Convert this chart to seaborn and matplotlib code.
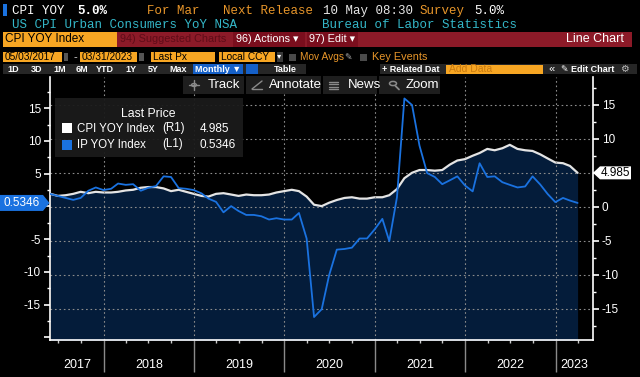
import numpy as np
import pandas as pd
import matplotlib
matplotlib.use("Agg")
import matplotlib.pyplot as plt
import matplotlib.dates as mdates
from matplotlib.patches import Rectangle, Polygon, Circle
from matplotlib.lines import Line2D
from matplotlib.ticker import MultipleLocator, FixedLocator
from matplotlib.transforms import blended_transform_factory
import seaborn as sns

# --- datos (mensuales, mayo 2017 - marzo 2023) ---
cpi_yoy = [1.9, 1.6, 1.7, 1.9, 2.2, 2.0, 2.2, 2.1,
           2.1, 2.2, 2.4, 2.5, 2.8, 2.9, 2.9, 2.7, 2.3, 2.5, 2.2, 1.9,
           1.6, 1.5, 1.9, 2.0, 1.8, 1.6, 1.8, 1.7, 1.7, 1.8, 2.1, 2.3,
           2.5, 2.3, 1.5, 0.3, 0.1, 0.6, 1.0, 1.3, 1.4, 1.2, 1.2, 1.4,
           1.4, 1.7, 2.6, 4.2, 5.0, 5.4, 5.4, 5.3, 5.4, 6.2, 6.8, 7.0,
           7.5, 7.9, 8.5, 8.3, 8.6, 9.1, 8.5, 8.3, 8.2, 7.7, 7.1, 6.5,
           6.4, 6.0, 4.985]
ip_yoy = [1.9, 1.6, 1.3, 1.0, 1.3, 2.4, 2.9, 2.5,
          2.7, 3.5, 3.3, 3.4, 2.4, 2.85, 3.1, 4.6, 4.5, 2.8, 2.7, 2.5,
          2.0, 1.2, 0.7, -0.9, 0.05, -0.7, -1.3, -1.3, -1.5, -2.0, -1.8, -2.0,
          -2.0, -1.0, -4.9, -16.9, -15.7, -10.5, -6.6, -6.5, -6.3, -4.9, -4.9, -3.5,
          -1.9, -5.3, 1.4, 16.5, 15.5, 9.3, 5.1, 4.5, 3.4, 4.0, 4.6, 3.2,
          2.3, 6.6, 4.5, 4.6, 3.7, 3.3, 2.9, 3.05, 4.6, 3.35, 1.9, 0.66,
          1.3, 0.9, 0.5346]
cpi_last = "4.985"
ip_last = "0.5346"
years = [2017, 2018, 2019, 2020, 2021, 2022, 2023]
left_ticks = [-20, -15, -10, -5, 0, 5, 10, 15]
left_labels = ["", "-15", "-10", "-5", "", "5", "10", "15"]
right_ticks = [-15, -10, -5, 0, 5, 10, 15]
right_labels = ["-15", "-10", "-5", "0", "", "10", "15"]

dates = pd.date_range("2017-06-01", periods=len(cpi_yoy), freq="MS") - pd.Timedelta(days=1)
df = pd.DataFrame({"fecha": dates, "cpi": cpi_yoy, "ip": ip_yoy})

# --- estilo ---
sns.set_theme(style="ticks", rc={"axes.facecolor": "black", "figure.facecolor": "black",
                                 "axes.unicode_minus": False})
plt.rcParams["font.family"] = ["Liberation Sans", "DejaVu Sans"]

NAVY = "#041c3a"
BLUE = "#1a72e0"
ORANGE = "#f7a623"
ORANGE_TXT = "#e8962a"
CYAN = "#34b7c8"
RED = "#8c1a28"
RED_DARK = "#7a0e1d"
W, H = 640, 377

fig = plt.figure(figsize=(W / 100, H / 100), dpi=100, facecolor="black")


def fx(x):
    return x / W


def fy(y):
    return 1 - y / H


def box(x0, y0, x1, y1, color, **kw):
    fig.patches.append(Rectangle((fx(x0), fy(y1)), (x1 - x0) / W, (y1 - y0) / H,
                                 transform=fig.transFigure, facecolor=color,
                                 edgecolor="none", **kw))


def poly(pts, color):
    fig.patches.append(Polygon([(fx(a), fy(b)) for a, b in pts], closed=True,
                               transform=fig.transFigure, facecolor=color,
                               edgecolor="none", zorder=2))


def seg(x0, y0, x1, y1, color="#8a8a8a", lw=1):
    fig.lines.append(Line2D([fx(x0), fx(x1)], [fy(y0), fy(y1)], transform=fig.transFigure,
                            color=color, linewidth=lw, zorder=3))


def txt(x, y, s, **kw):
    kw.setdefault("va", "center")
    kw.setdefault("color", "white")
    fig.text(fx(x), fy(y), s, **kw)


# --- ejes ---
ax = fig.add_axes([fx(50), fy(340), (592.7 - 50) / W, (340 - 77) / H])
ax2 = ax.twinx()
ax.set_zorder(ax2.get_zorder() + 1)
ax.patch.set_visible(False)
ax2.patch.set_visible(True)
ax2.patch.set_facecolor("black")

# CPI (eje derecho) como area
ax2.fill_between(df["fecha"], -40, df["cpi"], color=NAVY, lw=0, zorder=1)
sns.lineplot(data=df, x="fecha", y="cpi", ax=ax2, color="#e4e4e4", linewidth=1.6, zorder=2)
# IP (eje izquierdo)
sns.lineplot(data=df, x="fecha", y="ip", ax=ax, color=BLUE, linewidth=1.3, zorder=3)

ax.set_xlim(pd.Timestamp("2017-05-29"), pd.Timestamp("2023-05-31"))
ax.set_ylim(-20.41, 19.78)
ax2.set_ylim(-19.56, 19.06)
for a in (ax, ax2):
    a.set_xlabel("")
    a.set_ylabel("")

ax.yaxis.set_major_locator(FixedLocator(left_ticks))
ax.set_yticklabels(left_labels)
ax.yaxis.set_minor_locator(MultipleLocator(2.5))
ax2.yaxis.set_major_locator(FixedLocator(right_ticks))
ax2.set_yticklabels(right_labels)
ax2.yaxis.set_minor_locator(MultipleLocator(2.5))

ax.xaxis.set_major_locator(mdates.YearLocator())
ax.xaxis.set_minor_locator(mdates.MonthLocator(bymonth=[1, 4, 7, 10]))
ax.xaxis.set_major_formatter(plt.NullFormatter())

ax.tick_params(axis="y", which="major", colors="white", length=4, width=1.2, pad=2.5, labelsize=8.5)
ax.tick_params(axis="y", which="minor", colors="white", length=2.5, width=1)
ax2.tick_params(axis="y", which="major", colors="white", length=4, width=1.2, pad=2.5, labelsize=8.5)
ax2.tick_params(axis="y", which="minor", colors="white", length=2.5, width=1)
ax.tick_params(axis="x", which="major", color="#8a8a8a", length=23, width=1)
ax.tick_params(axis="x", which="minor", color="#cccccc", length=2.5, width=1)

for s in ("top", "right"):
    ax.spines[s].set_visible(False)
for s in ("top", "left", "bottom"):
    ax2.spines[s].set_visible(False)
ax.spines["left"].set_color("white")
ax.spines["bottom"].set_color("white")
ax2.spines["right"].set_color("white")
for sp in (ax.spines["left"], ax.spines["bottom"], ax2.spines["right"]):
    sp.set_linewidth(1.2)

# rejilla punteada
ax2.set_axisbelow("line")
ax2.grid(axis="y", which="major", color="#8c8c8c", linestyle=(0, (1.5, 2.5)), linewidth=0.8)
ax.grid(axis="x", which="major", color="#8c8c8c", linestyle=(0, (1.5, 2.5)), linewidth=0.8)
ax.grid(axis="y", visible=False)

# etiquetas de años
xl0, xl1 = ax.get_xlim()
tr = blended_transform_factory(ax.transData, fig.transFigure)
for yr in years:
    a0 = max(mdates.date2num(pd.Timestamp(f"{yr}-01-01")), xl0)
    a1 = min(mdates.date2num(pd.Timestamp(f"{yr + 1}-01-01")), xl1)
    ax.text((a0 + a1) / 2, fy(365), str(yr), transform=tr, ha="center", va="center",
            color="white", fontsize=9)

# etiquetas de último valor
fig.canvas.draw()
yc = H - ax2.transData.transform((0, float(cpi_last)))[1]
poly([(593, yc), (600, yc - 6.5), (631, yc - 6.5), (631, yc + 6.5), (600, yc + 6.5)], "white")
txt(615.5, yc, cpi_last, ha="center", color="black", fontsize=8.5, zorder=3)
yi = H - ax.transData.transform((0, float(ip_last)))[1]
poly([(0, yi - 8), (43, yi - 8), (49.5, yi), (43, yi + 8), (0, yi + 8)], BLUE)
txt(22, yi, ip_last, ha="center", fontsize=8.5, zorder=3)

# --- cabecera estilo terminal ---
mono = ["Liberation Mono", "DejaVu Sans Mono"]
box(3, 4, 7, 16, BLUE)
txt(12, 11, "CPI YOY", family=mono, fontsize=9)
txt(77, 11, "5.0%", family=mono, fontsize=9, fontweight="bold")
txt(147, 11, "For Mar", family=mono, fontsize=9, color=ORANGE_TXT)
txt(223, 11, "Next Release", family=mono, fontsize=9, color=ORANGE_TXT)
txt(323, 11, "10 May 08:30", family=mono, fontsize=9, color="#e6e6e6")
txt(420, 11, "Survey", family=mono, fontsize=9, color=ORANGE_TXT)
txt(474, 11, "5.0%", family=mono, fontsize=9)
txt(12, 25, "US CPI Urban Consumers YoY NSA", family=mono, fontsize=9, color=CYAN)
txt(322, 25, "Bureau of Labor Statistics", family=mono, fontsize=9, color=CYAN)

# barra roja
box(3, 32.3, 632, 46.7, RED)
box(3, 32.3, 117, 46.7, ORANGE)
txt(5, 39.5, "CPI YOY Index", color="black", fontsize=8.5)
txt(120, 39.5, "94) Suggested Charts", color="#5e0c18", fontsize=7.8)
box(233, 32.3, 305, 46.7, RED_DARK)
txt(236, 39.5, "96) Actions \u25be", fontsize=7.8)
box(306.5, 32.3, 358, 46.7, RED_DARK)
txt(309, 39.5, "97) Edit \u25be", fontsize=7.8)
txt(624, 39.5, "Line Chart", ha="right", fontsize=9)

# fechas y opciones
box(3, 51.7, 62, 62.3, ORANGE)
txt(5, 57, "05/03/2017", color="black", fontsize=7.3)
box(63.5, 53, 68, 61, "#555555")
txt(75, 57, "-", color="#dddddd", fontsize=8, ha="center")
box(80, 51.7, 137, 62.3, ORANGE)
txt(82, 57, "03/31/2023", color="black", fontsize=7.3)
box(139, 53, 143.5, 61, "#555555")
box(151, 51.7, 215, 62.3, ORANGE)
txt(153, 57, "Last Px", color="black", fontsize=7.3)
box(219, 51.7, 275, 62.3, ORANGE)
txt(221, 57, "Local CCY", color="black", fontsize=7.3)
box(276.5, 51.7, 282.5, 62.3, "#3a3a3a")
txt(279.5, 57, "\u25be", fontsize=6, ha="center")
box(289, 54, 296, 61, "#4a4a4a")
txt(300, 57, "Mov Avgs", color=ORANGE_TXT, fontsize=7.3)
txt(348, 57, "\u270e", color="#aaaaaa", fontsize=6.5, ha="center", family=["DejaVu Sans"])
box(360, 54, 367, 61, "#4a4a4a")
txt(372, 57, "Key Events", color=ORANGE_TXT, fontsize=7.8)

# barra de periodos
box(3, 64, 306, 74, "#262626")
box(380, 64, 637, 74, "#262626")
for lab, cx in zip(["1D", "3D", "1M", "6M", "YTD", "1Y", "5Y", "Max"],
                   [13, 37, 60, 82, 105, 131, 153, 178]):
    txt(cx, 69, lab, ha="center", fontsize=6.5, fontweight="bold")
box(193, 64, 243, 74, "#1560c8")
txt(218, 69, "Monthly \u25bc", ha="center", fontsize=6.5, fontweight="bold")
box(246, 64, 258, 74, "#1560c8")
txt(285, 69, "Table", ha="center", fontsize=6.5, fontweight="bold")
txt(411, 69, "+ Related Dat", ha="center", fontsize=6.5, fontweight="bold")
box(446, 64.5, 543, 73.5, ORANGE)
txt(449, 69, "Add Data", color="#c87a10", fontsize=7.5)
txt(552, 69, "\u00ab", fontsize=8, ha="center")
txt(588, 69, "\u270e Edit Chart", ha="center", fontsize=6.5, fontweight="bold")
txt(624, 69, "\u2699", ha="center", fontsize=7, color="#bbbbbb", family=["DejaVu Sans"])

# botones sobre el grafico
for x0, x1, lab, lx in [(183, 244, "Track", 208), (246, 321, "Annotate", 269),
                        (323, 377, "News", 348), (379, 440, "Zoom", 406)]:
    box(x0, 76, x1, 94, "#1e1e1e", zorder=1.5)
    txt(lx, 85, lab, fontsize=9.5)
# iconos: mira, angulo, lineas, lupa
seg(189, 85, 199, 85)
seg(194, 80, 194, 90)
fig.patches.append(Circle((fx(194), fy(85)), 2.5 / W, transform=fig.transFigure,
                          fill=False, edgecolor="#8a8a8a", lw=1, zorder=3))
seg(252, 89, 262, 81)
seg(252, 89, 262, 89)
for yy in (81.5, 84, 86.5, 89):
    seg(329, yy, 338, yy)
fig.patches.append(Circle((fx(393), fy(83.5)), 3.5 / W, transform=fig.transFigure,
                          fill=False, edgecolor="#8a8a8a", lw=1.1, zorder=3))
seg(395.5, 86, 399, 89.5, lw=1.3)

# leyenda
box(55, 98, 243, 157, "#1b1b1b", alpha=0.95, zorder=1.5)
txt(148, 114, "Last Price", ha="center", fontsize=8.8)
box(62, 123, 72, 133, "white", zorder=2)
txt(77, 128.5, "CPI YOY Index", fontsize=8.3)
txt(162, 128.5, "(R1)", fontsize=8.3)
txt(200, 128.5, cpi_last, fontsize=8.5)
box(62, 140, 72, 150, BLUE, zorder=2)
txt(77, 144.5, "IP YOY Index", fontsize=8.3)
txt(162, 144.5, "(L1)", fontsize=8.3)
txt(200, 144.5, ip_last, fontsize=8.5)

fig.savefig("out.png", dpi=100, facecolor="black")
